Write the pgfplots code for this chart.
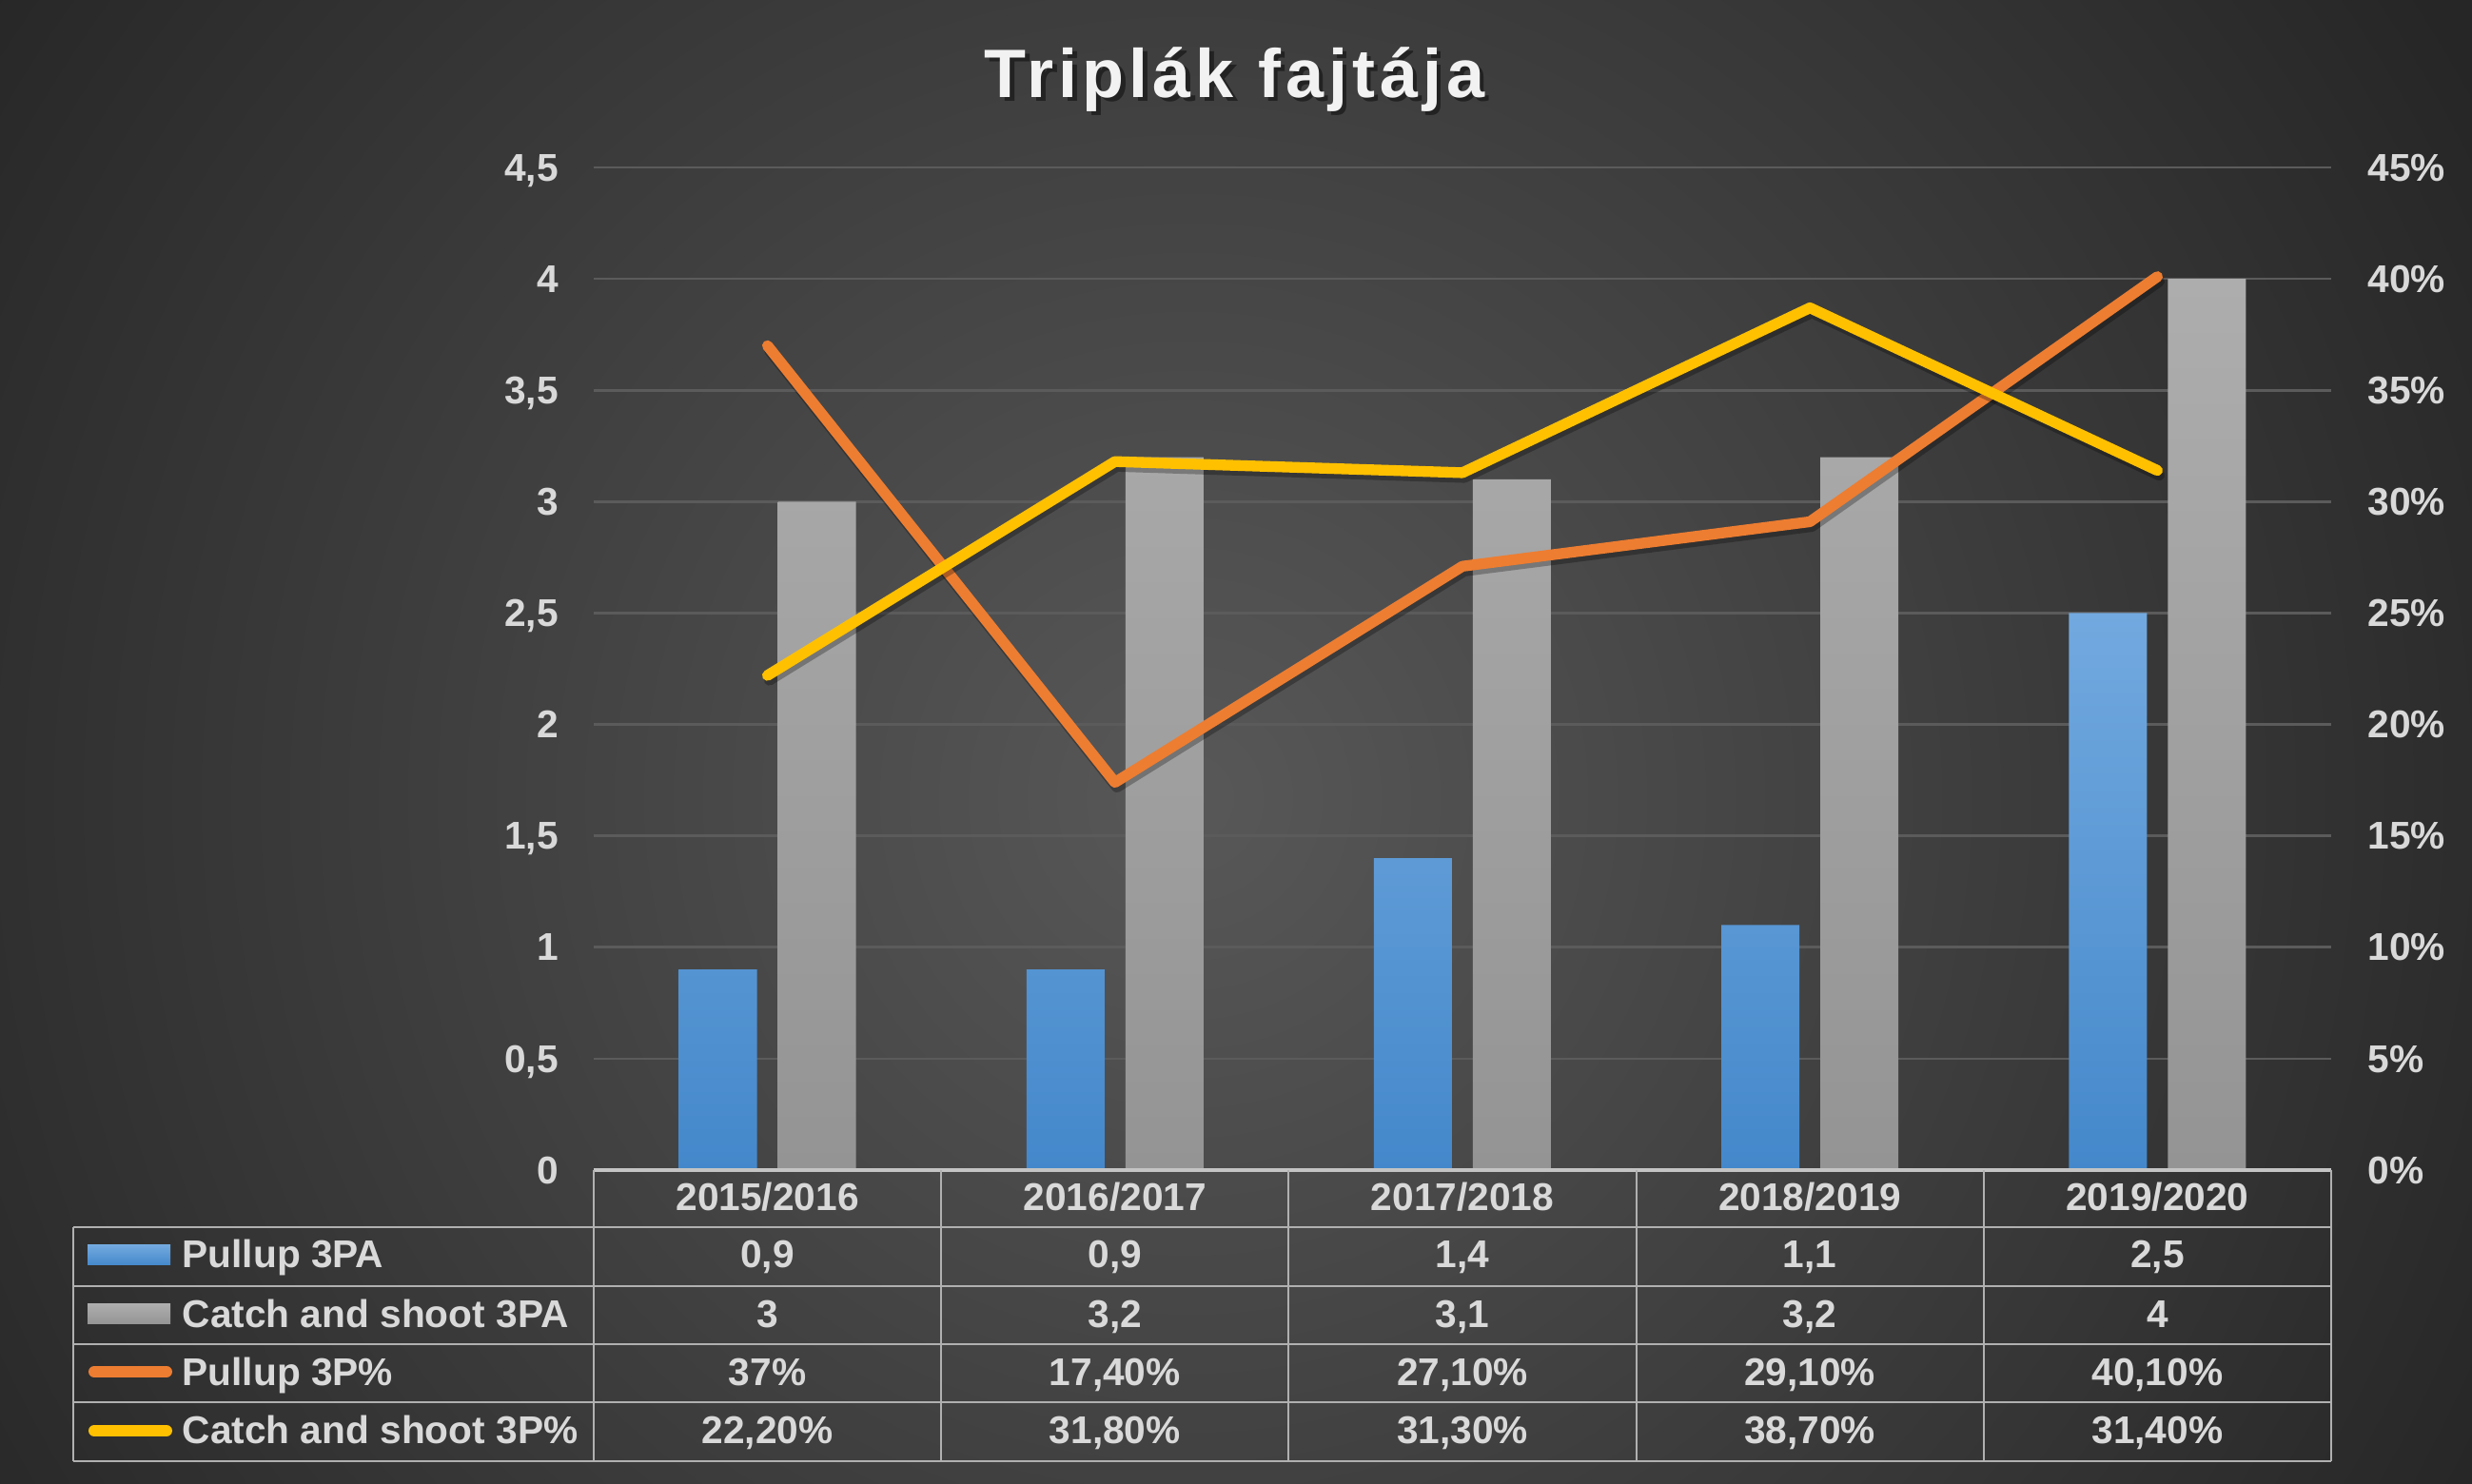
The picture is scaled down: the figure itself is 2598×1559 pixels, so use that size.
\documentclass[border=0pt]{standalone}
\usepackage{pgfplots}
\pgfplotsset{compat=1.18}
\usepackage{fontspec}
\setmainfont{Liberation Sans}
\definecolor{txt}{HTML}{D9D9D9}
\definecolor{ttl}{HTML}{F2F2F2}
\definecolor{gridc}{HTML}{5B5B5B}
\definecolor{tblc}{HTML}{B0B0B0}
\definecolor{tbltop}{HTML}{C4C4C4}
\definecolor{blueT}{HTML}{72A9DF}
\definecolor{blueB}{HTML}{4488CB}
\definecolor{grayT}{HTML}{ADADAD}
\definecolor{grayB}{HTML}{949494}
\definecolor{orangeC}{HTML}{ED7D31}
\definecolor{yellowC}{HTML}{FFC000}
\definecolor{bgIn}{HTML}{585858}
\definecolor{bgOut}{HTML}{262626}
\newcommand{\lf}{\bfseries\fontsize{12.2}{14}\selectfont}
\begin{document}
\begin{tikzpicture}[x=0.3pt,y=0.3pt]
\useasboundingbox (0,0) rectangle (2598,1559);
\begin{scope}
\clip (0,0) rectangle (2598,1559);
\fill[bgOut] (0,0) rectangle (2598,1559);
\shade[inner color=bgIn, outer color=bgOut] (1250,720) circle [radius=1550];
\end{scope}
% title
\node[anchor=base, text=black, opacity=0.45, font=\bfseries\fontsize{21.6}{26}\selectfont\addfontfeature{LetterSpace=7}] at (1302,1452) {Triplák fajtája};
\node[anchor=base, text=ttl, font=\bfseries\fontsize{21.6}{26}\selectfont\addfontfeature{LetterSpace=7}] at (1297.5,1456) {Triplák fajtája};
% primary axis: bars
\begin{axis}[
  at={(187.2pt,98.7pt)}, anchor=south west,
  width=547.8pt, height=316.2pt, scale only axis,
  xmin=-0.5, xmax=4.5, ymin=0, ymax=4.5,
  xtick=\empty,
  ytick={0,0.5,1,1.5,2,2.5,3,3.5,4,4.5},
  yticklabels={0,{0,5},1,{1,5},2,{2,5},3,{3,5},4,{4,5}},
  ymajorgrids, major grid style={gridc, line width=0.8pt},
  axis line style={draw=none},
  major tick length=0pt,
  yticklabel style={anchor=east, inner sep=0pt, xshift=-11pt, text depth=0pt, text=txt, font=\lf},
  ybar, bar width=24.6pt,
  clip=false,
]
\addplot[draw=none, top color=blueT, bottom color=blueB, bar shift=-15.6pt] coordinates {(0,0.9) (1,0.9) (2,1.4) (3,1.1) (4,2.5)};
\addplot[draw=none, top color=grayT, bottom color=grayB, bar shift=15.6pt] coordinates {(0,3) (1,3.2) (2,3.1) (3,3.2) (4,4)};
\end{axis}
% secondary axis: lines
\begin{axis}[
  at={(187.2pt,98.7pt)}, anchor=south west,
  width=547.8pt, height=316.2pt, scale only axis,
  xmin=-0.5, xmax=4.5, ymin=0, ymax=45,
  xtick=\empty,
  ytick={0,5,10,15,20,25,30,35,40,45},
  yticklabels={0\%,5\%,10\%,15\%,20\%,25\%,30\%,35\%,40\%,45\%},
  yticklabel pos=right,
  axis line style={draw=none},
  major tick length=0pt,
  yticklabel style={anchor=west, inner sep=0pt, xshift=11.4pt, text depth=0pt, text=txt, font=\lf},
  clip=false,
]
\addplot[orangeC, line width=3.4pt, line cap=round, line join=round,
  preaction={draw=black, draw opacity=0.28, line width=3.4pt, transform canvas={shift={(0.6pt,-1.5pt)}}}]
  coordinates {(0,37) (1,17.4) (2,27.1) (3,29.1) (4,40.1)};
\addplot[yellowC, line width=3.4pt, line cap=round, line join=round,
  preaction={draw=black, draw opacity=0.28, line width=3.4pt, transform canvas={shift={(0.6pt,-1.5pt)}}}]
  coordinates {(0,22.2) (1,31.8) (2,31.3) (3,38.7) (4,31.4)};
\end{axis}
% data table
\draw[tbltop, line width=1.0pt] (624,329) -- (2450,329);
\foreach \yy in {269,207,146,85,23} \draw[tblc,line width=0.8pt] (77,\yy) -- (2450,\yy);
\draw[tblc,line width=0.6pt] (77,269) -- (77,23);
\foreach \xx in {624,989.2,1354.4,1719.6,2084.8,2450} \draw[tblc,line width=0.6pt] (\xx,329) -- (\xx,23);
% legend keys
\shade[top color=blueT, bottom color=blueB] (92,229) rectangle (179,250);
\shade[top color=grayT, bottom color=grayB] (92,167) rectangle (179,188);
\draw[orangeC, line width=3.6pt, line cap=round] (99,117) -- (175,117);
\draw[yellowC, line width=3.6pt, line cap=round] (99,55) -- (175,55);
% row labels
\begin{scope}[every node/.style={text=txt, font=\lf, inner sep=0pt}]
\node[anchor=base west] at (191,226) {Pullup 3PA};
\node[anchor=base west] at (191,164) {Catch and shoot 3PA};
\node[anchor=base west] at (191,103) {Pullup 3P\%};
\node[anchor=base west] at (191,42) {Catch and shoot 3P\%};
\foreach \lab [count=\i from 0] in {2015/2016,2016/2017,2017/2018,2018/2019,2019/2020}
  \node[anchor=base] at ({806.6+365.2*\i},286) {\lab};
\foreach \lab [count=\i from 0] in {{0,9},{0,9},{1,4},{1,1},{2,5}}
  \node[anchor=base] at ({806.6+365.2*\i},226) {\lab};
\foreach \lab [count=\i from 0] in {3,{3,2},{3,1},{3,2},4}
  \node[anchor=base] at ({806.6+365.2*\i},164) {\lab};
\foreach \lab [count=\i from 0] in {37\%,{17,40\%},{27,10\%},{29,10\%},{40,10\%}}
  \node[anchor=base] at ({806.6+365.2*\i},103) {\lab};
\foreach \lab [count=\i from 0] in {{22,20\%},{31,80\%},{31,30\%},{38,70\%},{31,40\%}}
  \node[anchor=base] at ({806.6+365.2*\i},42) {\lab};
\end{scope}
\end{tikzpicture}
\end{document}
